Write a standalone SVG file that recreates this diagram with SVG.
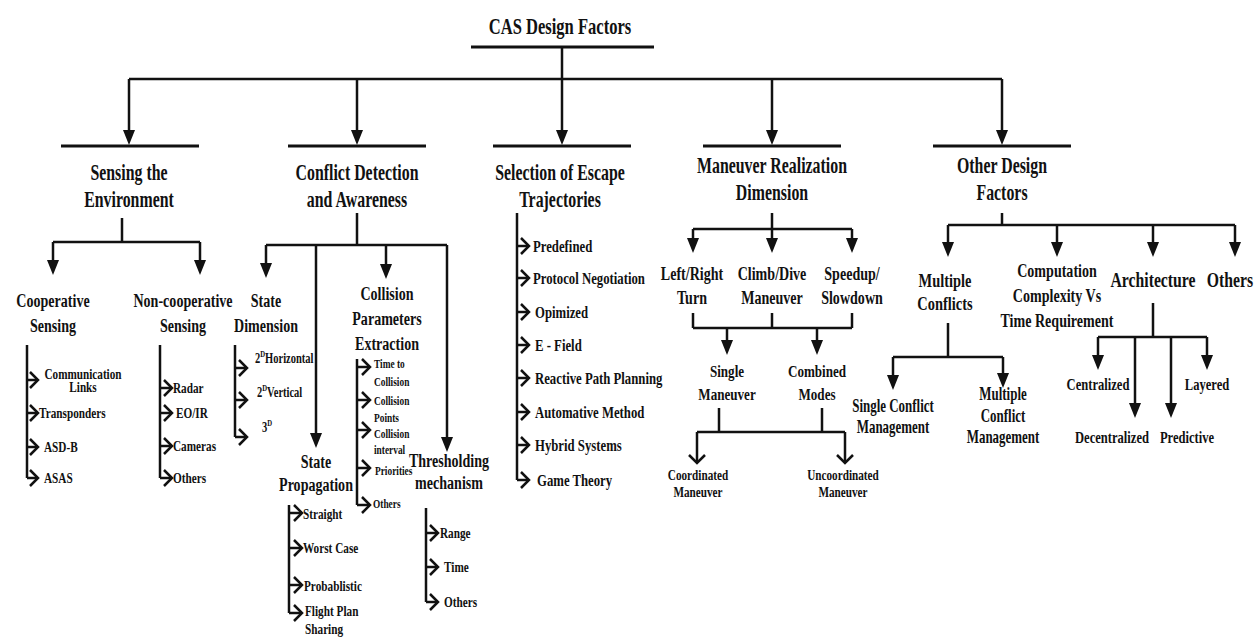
<svg xmlns="http://www.w3.org/2000/svg" width="1260" height="637" viewBox="0 0 1260 637">
<style>
.f{font-family:"Liberation Serif","Times New Roman",serif;font-weight:bold;fill:#111}
.c{text-anchor:middle}
.h{font-size:23px}.s{font-size:19px}.m{font-size:17px}.l{font-size:15px}.n{font-size:14px}.x{font-size:12px}.sup{font-size:9px}
.ln{fill:none;stroke:#111;stroke-width:2.5}
.bar{fill:none;stroke:#111;stroke-width:3}
</style>
<defs>
<marker id="ah" viewBox="0 -6 15 12" refX="7" refY="0" markerWidth="15" markerHeight="12" markerUnits="userSpaceOnUse" orient="auto" overflow="visible"><path d="M0,-6 L15,0 L0,6 z" fill="#111"/></marker>
<marker id="ch" viewBox="-1 -9 11 18" refX="8" refY="0" markerWidth="11" markerHeight="18" markerUnits="userSpaceOnUse" orient="auto" overflow="visible"><path d="M0,-8 L8,0 L0,8" fill="none" stroke="#111" stroke-width="2.5"/></marker>
</defs>
<rect width="1260" height="637" fill="#fff"/>
<g id="connectors">
<path class="bar" d="M471,47 H654"/>
<path class="ln" d="M562,47 V79 M129,79 H1002"/>
<g marker-end="url(#ah)" class="ln">
<path d="M129,79 V137"/><path d="M357,79 V137"/><path d="M562,79 V137"/><path d="M772,79 V137"/><path d="M1002,79 V137"/>
</g>
<path class="bar" d="M61,146 H199 M288,146 H426 M493,146 H631 M703,146 H841 M933,146 H1071"/>
<path class="ln" d="M122,218 V242 M53,242 H200"/>
<g marker-end="url(#ah)" class="ln"><path d="M53,242 V267"/><path d="M200,242 V267"/></g>
<path class="ln" d="M27,345 V478 M160,345 V478"/>
<g marker-end="url(#ch)" class="ln">
<path d="M27,380 H38"/><path d="M27,413 H38"/><path d="M27,447 H38"/><path d="M27,478 H38"/>
<path d="M160,388 H172"/><path d="M160,413 H172"/><path d="M160,446 H172"/><path d="M160,478 H172"/>
</g>
<path class="ln" d="M357,213 V245 M266,245 H447"/>
<g marker-end="url(#ah)" class="ln"><path d="M266,245 V270"/><path d="M316,245 V440"/><path d="M386,245 V271"/><path d="M447,245 V444"/></g>
<path class="ln" d="M235,345 V437 M357,359 V505 M426,508 V602 M289,505 V613"/>
<g marker-end="url(#ch)" class="ln">
<path d="M235,368 H247"/><path d="M235,400 H247"/><path d="M235,437 H247"/>
<path d="M357,367 H370"/><path d="M357,400 H370"/><path d="M357,430 H370"/><path d="M357,468 H370"/><path d="M357,505 H370"/>
<path d="M426,533 H438"/><path d="M426,567 H438"/><path d="M426,602 H438"/>
<path d="M289,513 H302"/><path d="M289,548 H302"/><path d="M289,585 H302"/><path d="M289,613 H302"/>
</g>
<path class="ln" d="M517,213 V480"/>
<g marker-end="url(#ch)" class="ln">
<path d="M517,246 H529"/><path d="M517,278 H529"/><path d="M517,312 H529"/><path d="M517,345 H529"/><path d="M517,378 H529"/><path d="M517,412 H529"/><path d="M517,445 H529"/><path d="M517,480 H529"/>
</g>
<path class="ln" d="M772,213 V229 M693,229 H852"/>
<g marker-end="url(#ah)" class="ln"><path d="M693,229 V245"/><path d="M772,229 V245"/><path d="M852,229 V245"/></g>
<path class="ln" d="M693,313 V328 M772,313 V328 M852,313 V328 M693,328 H852"/>
<g marker-end="url(#ah)" class="ln"><path d="M727,328 V347"/><path d="M817,328 V347"/></g>
<path class="ln" d="M719,408 V432 M822,408 V432 M697,432 H845"/>
<g marker-end="url(#ch)" class="ln"><path d="M697,432 V463"/><path d="M845,432 V463"/></g>
<path class="ln" d="M1002,213 V225 M948,225 H1235"/>
<g marker-end="url(#ah)" class="ln"><path d="M948,225 V249"/><path d="M1057,225 V249"/><path d="M1153,225 V249"/><path d="M1235,225 V249"/></g>
<path class="ln" d="M948,323 V357 M893,357 H1003"/>
<g marker-end="url(#ah)" class="ln"><path d="M893,357 V382"/><path d="M1003,357 V380"/></g>
<path class="ln" d="M1153,303 V337 M1098,337 H1207"/>
<g marker-end="url(#ah)" class="ln"><path d="M1098,337 V362"/><path d="M1135,337 V410"/><path d="M1171,337 V410"/><path d="M1207,337 V362"/></g>
</g>

<g id="n-title"><text class="f h c" transform="translate(560,34) scale(.72,1)">CAS Design Factors</text></g>

<g id="n-sensing"><text class="f h c" transform="translate(129,180) scale(.69,1)"><tspan x="0">Sensing the</tspan><tspan x="0" dy="27">Environment</tspan></text></g>
<g id="n-coop"><text class="f s c" transform="translate(53,307) scale(.74,1)"><tspan x="0">Cooperative</tspan><tspan x="0" dy="25">Sensing</tspan></text></g>
<g id="n-noncoop"><text class="f s c" transform="translate(183,307) scale(.74,1)"><tspan x="0">Non-cooperative</tspan><tspan x="0" dy="25">Sensing</tspan></text></g>
<g id="n-coop-items">
<text class="f n c" transform="translate(83,379) scale(.8,1)"><tspan x="0">Communication</tspan><tspan x="0" dy="13">Links</tspan></text>
<text class="f l" transform="translate(39,418) scale(.75,1)">Transponders</text>
<text class="f l" transform="translate(44,452) scale(.75,1)">ASD-B</text>
<text class="f l" transform="translate(44,483) scale(.75,1)">ASAS</text>
</g>
<g id="n-noncoop-items">
<text class="f l" transform="translate(173,393) scale(.75,1)">Radar</text>
<text class="f l" transform="translate(176,418) scale(.75,1)">EO/IR</text>
<text class="f l" transform="translate(173,451) scale(.75,1)">Cameras</text>
<text class="f l" transform="translate(173,483) scale(.75,1)">Others</text>
</g>

<g id="n-conflict"><text class="f h c" transform="translate(357,180) scale(.69,1)"><tspan x="0">Conflict Detection</tspan><tspan x="0" dy="27">and Awareness</tspan></text></g>
<g id="n-statedim"><text class="f s c" transform="translate(266,307) scale(.74,1)"><tspan x="0">State</tspan><tspan x="0" dy="25">Dimension</tspan></text></g>
<g id="n-statedim-items">
<text class="f n" transform="translate(255,363) scale(.75,1)">2<tspan class="sup" dy="-6">D</tspan><tspan dy="6">Horizontal</tspan></text>
<text class="f n" transform="translate(257,397) scale(.75,1)">2<tspan class="sup" dy="-6">D</tspan><tspan dy="6">Vertical</tspan></text>
<text class="f n" transform="translate(262,432) scale(.75,1)">3<tspan class="sup" dy="-6">D</tspan></text>
</g>
<g id="n-stateprop"><text class="f s c" transform="translate(316,468) scale(.74,1)"><tspan x="0">State</tspan><tspan x="0" dy="23">Propagation</tspan></text></g>
<g id="n-stateprop-items">
<text class="f l" transform="translate(303,519) scale(.75,1)">Straight</text>
<text class="f l" transform="translate(303,553) scale(.75,1)">Worst Case</text>
<text class="f l" transform="translate(304,591) scale(.75,1)">Probablistic</text>
<text class="f l" transform="translate(305,616) scale(.75,1)"><tspan x="0">Flight Plan</tspan><tspan x="0" dy="18">Sharing</tspan></text>
</g>
<g id="n-collision"><text class="f s c" transform="translate(387,300) scale(.74,1)"><tspan x="0">Collision</tspan><tspan x="0" dy="25">Parameters</tspan><tspan x="0" dy="25">Extraction</tspan></text></g>
<g id="n-collision-items">
<text class="f x" transform="translate(374,368) scale(.78,1)"><tspan x="0">Time to</tspan><tspan x="0" dy="18">Collision</tspan></text>
<text class="f x" transform="translate(374,405) scale(.78,1)"><tspan x="0">Collision</tspan><tspan x="0" dy="17">Points</tspan></text>
<text class="f x" transform="translate(374,438) scale(.78,1)"><tspan x="0">Collision</tspan><tspan x="0" dy="16">interval</tspan></text>
<text class="f x" transform="translate(375,475) scale(.78,1)">Priorities</text>
<text class="f x" transform="translate(373,508) scale(.78,1)">Others</text>
</g>
<g id="n-threshold"><text class="f s c" transform="translate(449,467) scale(.74,1)"><tspan x="0">Thresholding</tspan><tspan x="0" dy="22">mechanism</tspan></text></g>
<g id="n-threshold-items">
<text class="f l" transform="translate(440,538) scale(.75,1)">Range</text>
<text class="f l" transform="translate(444,572) scale(.75,1)">Time</text>
<text class="f l" transform="translate(444,607) scale(.75,1)">Others</text>
</g>

<g id="n-selection"><text class="f h c" transform="translate(560,180) scale(.69,1)"><tspan x="0">Selection of Escape</tspan><tspan x="0" dy="27">Trajectories</tspan></text></g>
<g id="n-selection-items">
<text class="f m" transform="translate(533,252) scale(.75,1)">Predefined</text>
<text class="f m" transform="translate(533,284) scale(.75,1)">Protocol Negotiation</text>
<text class="f m" transform="translate(535,318) scale(.75,1)">Opimized</text>
<text class="f m" transform="translate(535,351) scale(.75,1)">E - Field</text>
<text class="f m" transform="translate(535,384) scale(.75,1)">Reactive Path Planning</text>
<text class="f m" transform="translate(535,418) scale(.75,1)">Automative Method</text>
<text class="f m" transform="translate(535,451) scale(.75,1)">Hybrid Systems</text>
<text class="f m" transform="translate(537,486) scale(.75,1)">Game Theory</text>
</g>

<g id="n-maneuver"><text class="f h c" transform="translate(772,173) scale(.69,1)"><tspan x="0">Maneuver Realization</tspan><tspan x="0" dy="27">Dimension</tspan></text></g>
<g id="n-leftright"><text class="f s c" transform="translate(692,280) scale(.74,1)"><tspan x="0">Left/Right</tspan><tspan x="0" dy="24">Turn</tspan></text></g>
<g id="n-climb"><text class="f s c" transform="translate(772,280) scale(.74,1)"><tspan x="0">Climb/Dive</tspan><tspan x="0" dy="24">Maneuver</tspan></text></g>
<g id="n-speed"><text class="f s c" transform="translate(852,280) scale(.74,1)"><tspan x="0">Speedup/</tspan><tspan x="0" dy="24">Slowdown</tspan></text></g>
<g id="n-single"><text class="f m c" transform="translate(727,377) scale(.77,1)"><tspan x="0">Single</tspan><tspan x="0" dy="23">Maneuver</tspan></text></g>
<g id="n-combined"><text class="f m c" transform="translate(817,377) scale(.77,1)"><tspan x="0">Combined</tspan><tspan x="0" dy="23">Modes</tspan></text></g>
<g id="n-coord"><text class="f n c" transform="translate(698,480) scale(.8,1)"><tspan x="0">Coordinated</tspan><tspan x="0" dy="17">Maneuver</tspan></text></g>
<g id="n-uncoord"><text class="f n c" transform="translate(843,480) scale(.8,1)"><tspan x="0">Uncoordinated</tspan><tspan x="0" dy="17">Maneuver</tspan></text></g>

<g id="n-other"><text class="f h c" transform="translate(1002,173) scale(.69,1)"><tspan x="0">Other Design</tspan><tspan x="0" dy="27">Factors</tspan></text></g>
<g id="n-multiple"><text class="f s c" transform="translate(945,287) scale(.76,1)"><tspan x="0">Multiple</tspan><tspan x="0" dy="23">Conflicts</tspan></text></g>
<g id="n-computation"><text class="f s c" transform="translate(1057,277) scale(.74,1)"><tspan x="0">Computation</tspan><tspan x="0" dy="25">Complexity Vs</tspan><tspan x="0" dy="25">Time Requirement</tspan></text></g>
<g id="n-architecture"><text class="f c" style="font-size:21px" transform="translate(1153,287) scale(.75,1)">Architecture</text></g>
<g id="n-others"><text class="f c" style="font-size:21px" transform="translate(1230,287) scale(.75,1)">Others</text></g>
<g id="n-singlecm"><text class="f c" style="font-size:18px" transform="translate(893,412) scale(.72,1)"><tspan x="0">Single Conflict</tspan><tspan x="0" dy="21">Management</tspan></text></g>
<g id="n-multiplecm"><text class="f c" style="font-size:18px" transform="translate(1003,400) scale(.72,1)"><tspan x="0">Multiple</tspan><tspan x="0" dy="22">Conflict</tspan><tspan x="0" dy="21">Management</tspan></text></g>
<g id="n-centralized"><text class="f m c" transform="translate(1098,390) scale(.74,1)">Centralized</text></g>
<g id="n-layered"><text class="f m c" transform="translate(1207,390) scale(.74,1)">Layered</text></g>
<g id="n-decentralized"><text class="f m c" transform="translate(1112,443) scale(.74,1)">Decentralized</text></g>
<g id="n-predictive"><text class="f m c" transform="translate(1187,443) scale(.74,1)">Predictive</text></g>
</svg>
